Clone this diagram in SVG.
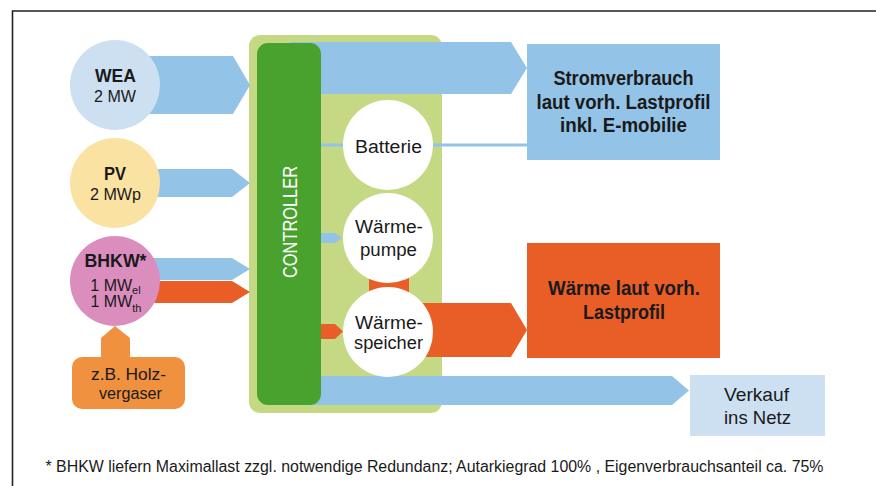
<svg xmlns="http://www.w3.org/2000/svg" width="876" height="486" viewBox="0 0 876 486">
<style>
text{font-family:"Liberation Sans",Arial,sans-serif;fill:#1a1a1a;}
.b{font-weight:bold;}
.lbl{font-size:16px;}
.big{font-size:19px;}
.blue{fill:#93C3E6;}
.orange{fill:#E95E27;}
.white{fill:#ffffff;}
</style>
<rect width="876" height="486" fill="#ffffff"/>
<path d="M12.5,486 V11 H876" fill="none" stroke="#222" stroke-width="1.6"/>

<g id="controller-frame">
<rect x="249" y="35" width="193" height="378" rx="11" fill="#C5D985"/>
</g>

<g id="connectors">
<polygon class="blue" points="140,56 233,56 250,85 233,114 140,114"/>
<polygon class="blue" points="140,169 232,169 250,183 232,197 140,197"/>
<polygon class="blue" points="140,258 232,258 250,269 232,280 140,280"/>
<polygon class="orange" points="140,281 232,281 250,292 232,303 140,303"/>
<polygon points="101,358 101,338 115,326 130,338 130,358" fill="#F0913F"/>
<polygon class="blue" points="290,42 511,42 527,68 511,94 290,94"/>
<rect class="blue" x="318" y="143.5" width="28" height="3"/>
<rect class="blue" x="430" y="143.5" width="97" height="3"/>
<polygon class="blue" points="318,233 335,233 342,238 335,243 318,243"/>
<polygon class="orange" points="318,324 335,324 343,331.5 335,339 318,339"/>
<rect class="orange" x="369" y="262" width="40" height="36"/>
<polygon class="orange" points="410,303 511,303 527,330 511,357 410,357"/>
<polygon class="blue" points="290,376 672,376 689,390.5 672,405 290,405"/>
</g>

<g id="controller">
<rect x="257" y="43" width="64" height="362" rx="11" fill="#4AA22E"/>
<text transform="translate(296.5,222) rotate(-90)" text-anchor="middle" font-size="21" textLength="112" lengthAdjust="spacingAndGlyphs" style="fill:#ffffff">CONTROLLER</text>
</g>

<g id="wea">
<circle cx="115" cy="85" r="45" fill="#CCE0F2"/>
<text class="b big" x="115.5" y="81.5" text-anchor="middle" textLength="41" lengthAdjust="spacingAndGlyphs">WEA</text>
<text class="lbl" x="115" y="102" text-anchor="middle" textLength="42" lengthAdjust="spacingAndGlyphs">2 MW</text>
</g>

<g id="pv">
<circle cx="115" cy="183" r="45" fill="#FAE3A2"/>
<text class="b big" x="115" y="180" text-anchor="middle" textLength="22" lengthAdjust="spacingAndGlyphs">PV</text>
<text class="lbl" x="115.5" y="200" text-anchor="middle" textLength="51" lengthAdjust="spacingAndGlyphs">2 MWp</text>
</g>

<g id="bhkw">
<circle cx="115" cy="281" r="45" fill="#DB8EBE"/>
<text class="b big" x="115.5" y="267" text-anchor="middle" textLength="62" lengthAdjust="spacingAndGlyphs">BHKW*</text>
<text class="lbl" x="115.5" y="290.5" text-anchor="middle">1 MW<tspan font-size="11" dy="3">el</tspan></text>
<text class="lbl" x="116" y="307" text-anchor="middle">1 MW<tspan font-size="11" dy="5">th</tspan></text>
</g>

<g id="holzvergaser">
<rect x="72" y="357" width="113" height="52" rx="10" fill="#F0913F"/>
<text class="lbl" x="128.5" y="380" text-anchor="middle" font-size="17" textLength="75" lengthAdjust="spacingAndGlyphs">z.B. Holz-</text>
<text class="lbl" x="130.5" y="399" text-anchor="middle" font-size="17" textLength="63" lengthAdjust="spacingAndGlyphs">vergaser</text>
</g>

<g id="batterie">
<circle class="white" cx="388" cy="145" r="45"/>
<text x="388.5" y="152.5" text-anchor="middle" font-size="18" textLength="67" lengthAdjust="spacingAndGlyphs">Batterie</text>
</g>

<g id="waermepumpe">
<circle class="white" cx="388" cy="238" r="45"/>
<text x="389" y="233" text-anchor="middle" font-size="18" textLength="68" lengthAdjust="spacingAndGlyphs">Wärme-</text>
<text x="388.5" y="256" text-anchor="middle" font-size="18" textLength="57" lengthAdjust="spacingAndGlyphs">pumpe</text>
</g>

<g id="waermespeicher">
<circle class="white" cx="388" cy="332" r="45"/>
<text x="389" y="329" text-anchor="middle" font-size="18" textLength="68" lengthAdjust="spacingAndGlyphs">Wärme-</text>
<text x="388.5" y="349" text-anchor="middle" font-size="18" textLength="69" lengthAdjust="spacingAndGlyphs">speicher</text>
</g>

<g id="stromverbrauch">
<rect x="527" y="44" width="193" height="116" fill="#93C3E6"/>
<text class="b" x="623.5" y="85" text-anchor="middle" font-size="20" textLength="140" lengthAdjust="spacingAndGlyphs">Stromverbrauch</text>
<text class="b" x="623.5" y="109" text-anchor="middle" font-size="20" textLength="174" lengthAdjust="spacingAndGlyphs">laut vorh. Lastprofil</text>
<text class="b" x="623.5" y="132" text-anchor="middle" font-size="20" textLength="127" lengthAdjust="spacingAndGlyphs">inkl. E-mobilie</text>
</g>

<g id="waerme">
<rect x="527" y="243" width="193" height="115" fill="#E95E27"/>
<text class="b" x="624" y="295" text-anchor="middle" font-size="20" textLength="152" lengthAdjust="spacingAndGlyphs">Wärme laut vorh.</text>
<text class="b" x="624" y="319" text-anchor="middle" font-size="20" textLength="82" lengthAdjust="spacingAndGlyphs">Lastprofil</text>
</g>

<g id="verkauf">
<rect x="690" y="375" width="135" height="61" fill="#CCE0F2"/>
<text x="756.5" y="400.5" text-anchor="middle" font-size="19" textLength="65" lengthAdjust="spacingAndGlyphs">Verkauf</text>
<text x="757.5" y="424" text-anchor="middle" font-size="19" textLength="67" lengthAdjust="spacingAndGlyphs">ins Netz</text>
</g>

<text x="45.5" y="472" font-size="16" textLength="778" lengthAdjust="spacingAndGlyphs">* BHKW liefern Maximallast zzgl. notwendige Redundanz; Autarkiegrad 100% , Eigenverbrauchsanteil ca. 75%</text>
</svg>
